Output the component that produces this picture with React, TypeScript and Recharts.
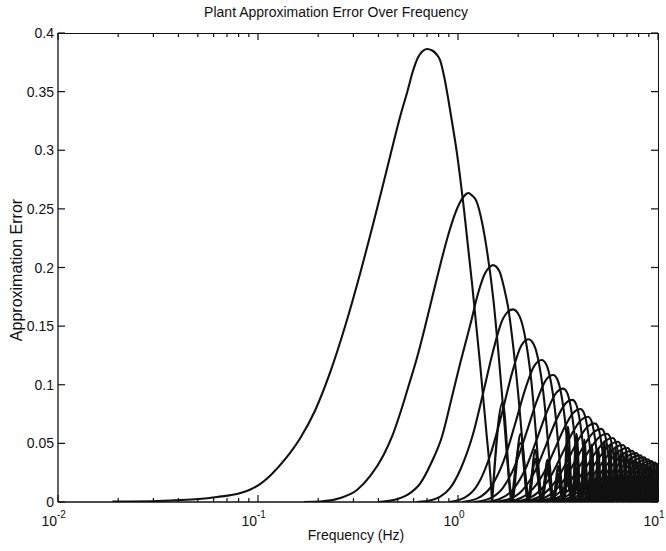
import React from 'react';
import { LineChart, Line, XAxis, YAxis } from 'recharts';

// Main lobe of each approximation-error curve: [frequency (Hz), error]
const curve1 = [[0.0187,0.0003],[0.0231,0.0004],[0.0365,0.0013],[0.0487,0.0024],[0.0627,0.0043],[0.0817,0.0077],[0.0916,0.0107],[0.1028,0.0154],[0.1153,0.0226],[0.137,0.0367],[0.1628,0.0546],[0.1935,0.0785],[0.2299,0.1109],[0.2733,0.1505],[0.3248,0.1956],[0.3859,0.2444],[0.4584,0.2953],[0.5143,0.329],[0.5575,0.3497],[0.5973,0.3684],[0.6327,0.3795],[0.6626,0.3842],[0.6993,0.3864],[0.7435,0.3851],[0.7784,0.3821],[0.8151,0.3765],[0.8535,0.3625],[0.8965,0.3424],[0.9409,0.3207],[0.9874,0.2977],[1.074,0.2478],[1.1774,0.1851],[1.2911,0.1168],[1.3832,0.0614],[1.4651,0.0124],[1.48,0]];
const curve2 = [[0.17,0],[0.2049,0.0003],[0.258,0.0034],[0.3126,0.0102],[0.3642,0.0222],[0.4245,0.0401],[0.4693,0.0563],[0.5143,0.0759],[0.564,0.0981],[0.6232,0.1228],[0.6857,0.1501],[0.7545,0.1791],[0.8245,0.2055],[0.8965,0.2286],[0.9572,0.2439],[1.0256,0.2559],[1.074,0.261],[1.1245,0.2635],[1.174,0.2615],[1.2328,0.257],[1.3212,0.238],[1.3943,0.215],[1.5043,0.172],[1.6064,0.12],[1.7013,0.07],[1.7812,0.028],[1.86,0]];
const curve3 = [[0.4,0],[0.4762,0.0017],[0.5575,0.006],[0.6474,0.0159],[0.7347,0.0333],[0.8311,0.0557],[0.9248,0.087],[1.0256,0.1183],[1.1509,0.1509],[1.2616,0.1783],[1.3676,0.1953],[1.4318,0.2],[1.494,0.202],[1.6083,0.197],[1.7032,0.182],[1.7812,0.166],[1.8934,0.131],[1.998,0.093],[2.09,0.055],[2.178,0.022],[2.25,0]];
const curve4 = [[0.62,0],[0.6857,0.0005],[0.815,0.0045],[0.9142,0.012],[1.0256,0.0273],[1.187,0.0575],[1.3317,0.092],[1.494,0.128],[1.676,0.156],[1.88,0.1643],[2.03,0.1585],[2.18,0.138],[2.33,0.1019],[2.46,0.0559],[2.56,0.0181],[2.62,0]];
const curve5 = [[0.9,0],[1.08,0.0037],[1.26,0.0153],[1.46,0.0416],[1.67,0.0777],[1.87,0.111],[2.07,0.1332],[2.25,0.1388],[2.4,0.1339],[2.55,0.1166],[2.7,0.0861],[2.83,0.0472],[2.93,0.0153],[2.99,0]];
const curve6 = [[1.048,0],[1.258,0.0033],[1.467,0.0133],[1.703,0.0363],[1.939,0.0678],[2.175,0.0969],[2.41,0.1163],[2.62,0.1211],[2.77,0.1169],[2.92,0.1017],[3.07,0.0751],[3.2,0.0412],[3.3,0.0133],[3.36,0]];
const curve7 = [[1.196,0],[1.435,0.0029],[1.674,0.0119],[1.944,0.0325],[2.213,0.0606],[2.482,0.0866],[2.751,0.104],[2.99,0.1083],[3.14,0.1045],[3.29,0.091],[3.44,0.0671],[3.57,0.0368],[3.67,0.0119],[3.73,0]];
const curve8 = [[1.344,0],[1.613,0.0026],[1.882,0.0106],[2.184,0.029],[2.486,0.0542],[2.789,0.0774],[3.091,0.0928],[3.36,0.0967],[3.51,0.0933],[3.66,0.0812],[3.81,0.06],[3.94,0.0329],[4.04,0.0106],[4.1,0]];
const curve9 = [[1.492,0],[1.79,0.0024],[2.089,0.0096],[2.425,0.0261],[2.76,0.0488],[3.096,0.0697],[3.432,0.0836],[3.73,0.0871],[3.88,0.0841],[4.03,0.0732],[4.18,0.054],[4.31,0.0296],[4.41,0.0096],[4.47,0]];
const curve10 = [[1.64,0],[1.968,0.0021],[2.296,0.0087],[2.665,0.0238],[3.034,0.0444],[3.403,0.0634],[3.772,0.0761],[4.1,0.0793],[4.25,0.0765],[4.4,0.0666],[4.55,0.0492],[4.68,0.027],[4.78,0.0087],[4.84,0]];
const curve11 = [[1.788,0],[2.146,0.002],[2.503,0.008],[2.906,0.0218],[3.308,0.0407],[3.71,0.0582],[4.112,0.0698],[4.47,0.0727],[4.62,0.0702],[4.77,0.0611],[4.92,0.0451],[5.05,0.0247],[5.15,0.008],[5.21,0]];
const curve12 = [[1.936,0],[2.323,0.0018],[2.71,0.0074],[3.146,0.0201],[3.582,0.0376],[4.017,0.0537],[4.453,0.0644],[4.84,0.0671],[4.99,0.0648],[5.14,0.0564],[5.29,0.0416],[5.42,0.0228],[5.52,0.0074],[5.58,0]];
const curve13 = [[2.084,0],[2.501,0.0017],[2.918,0.0069],[3.387,0.0187],[3.855,0.0349],[4.324,0.0499],[4.793,0.0599],[5.21,0.0624],[5.36,0.0602],[5.51,0.0524],[5.66,0.0387],[5.79,0.0212],[5.89,0.0069],[5.95,0]];
const curve14 = [[2.232,0],[2.678,0.0016],[3.125,0.0064],[3.627,0.0175],[4.129,0.0326],[4.631,0.0466],[5.134,0.0559],[5.58,0.0582],[5.73,0.0562],[5.88,0.0489],[6.03,0.0361],[6.16,0.0198],[6.26,0.0064],[6.32,0]];
const curve15 = [[2.38,0],[2.856,0.0015],[3.332,0.006],[3.868,0.0164],[4.403,0.0306],[4.939,0.0437],[5.474,0.0524],[5.95,0.0546],[6.1,0.0527],[6.25,0.0459],[6.4,0.0339],[6.53,0.0186],[6.63,0.006],[6.69,0]];
const curve16 = [[2.528,0],[3.034,0.0014],[3.539,0.0057],[4.108,0.0154],[4.677,0.0288],[5.246,0.0411],[5.814,0.0493],[6.32,0.0514],[6.47,0.0496],[6.62,0.0432],[6.77,0.0319],[6.9,0.0175],[7.0,0.0057],[7.06,0]];
const curve17 = [[2.676,0],[3.211,0.0013],[3.746,0.0053],[4.349,0.0146],[4.951,0.0272],[5.553,0.0389],[6.155,0.0467],[6.69,0.0486],[6.84,0.0469],[6.99,0.0408],[7.14,0.0301],[7.27,0.0165],[7.37,0.0053],[7.43,0]];
const curve18 = [[2.824,0],[3.389,0.0012],[3.954,0.0051],[4.589,0.0138],[5.224,0.0258],[5.86,0.0368],[6.495,0.0442],[7.06,0.046],[7.21,0.0444],[7.36,0.0386],[7.51,0.0285],[7.64,0.0156],[7.74,0.0051],[7.8,0]];
const curve19 = [[2.972,0],[3.566,0.0012],[4.161,0.0048],[4.83,0.0131],[5.498,0.0245],[6.167,0.035],[6.836,0.042],[7.43,0.0437],[7.58,0.0422],[7.73,0.0367],[7.88,0.0271],[8.01,0.0149],[8.11,0.0048],[8.17,0]];
const curve20 = [[3.12,0],[3.744,0.0011],[4.368,0.0046],[5.07,0.0125],[5.772,0.0234],[6.474,0.0334],[7.176,0.04],[7.8,0.0417],[7.95,0.0402],[8.1,0.035],[8.25,0.0259],[8.38,0.0142],[8.48,0.0046],[8.54,0]];
const curve21 = [[3.268,0],[3.922,0.0011],[4.575,0.0044],[5.311,0.0119],[6.046,0.0223],[6.781,0.0318],[7.516,0.0382],[8.17,0.0398],[8.32,0.0384],[8.47,0.0334],[8.62,0.0247],[8.75,0.0135],[8.85,0.0044],[8.91,0]];
const curve22 = [[3.416,0],[4.099,0.001],[4.782,0.0042],[5.551,0.0114],[6.32,0.0213],[7.088,0.0305],[7.857,0.0366],[8.54,0.0381],[8.69,0.0368],[8.84,0.032],[8.99,0.0236],[9.12,0.013],[9.22,0.0042],[9.28,0]];
const curve23 = [[3.564,0],[4.277,0.001],[4.99,0.004],[5.792,0.011],[6.593,0.0204],[7.395,0.0292],[8.197,0.035],[8.91,0.0365],[9.06,0.0352],[9.21,0.0307],[9.36,0.0226],[9.49,0.0124],[9.59,0.004],[9.65,0]];
const curve24 = [[3.712,0],[4.454,0.0009],[5.197,0.0039],[6.032,0.0105],[6.867,0.0196],[7.702,0.028],[8.538,0.0336],[9.28,0.035],[9.43,0.0338],[9.58,0.0294],[9.73,0.0217],[9.86,0.0119],[9.96,0.0039],[10.02,0]];
const curve25 = [[3.86,0],[4.632,0.0009],[5.404,0.0037],[6.273,0.0101],[7.141,0.0189],[8.01,0.027],[8.878,0.0324],[9.65,0.0337],[9.8,0.0325],[9.95,0.0283],[10.1,0.0209],[10.23,0.0115],[10.33,0.0037],[10.39,0]];
const curve26 = [[4.008,0],[4.81,0.0009],[5.611,0.0036],[6.513,0.0097],[7.415,0.0181],[8.317,0.0259],[9.218,0.0311],[10.02,0.0324],[10.17,0.0313],[10.32,0.0272]];
const curve27 = [[4.156,0],[4.987,0.0008],[5.818,0.0034],[6.754,0.0094],[7.689,0.0175],[8.624,0.025],[9.559,0.03],[10.39,0.0313]];
const curve28 = [[4.304,0],[5.165,0.0008],[6.026,0.0033],[6.994,0.0091],[7.962,0.0169],[8.931,0.0242],[9.899,0.029],[10.76,0.0302]];
const curve29 = [[4.452,0],[5.342,0.0008],[6.233,0.0032],[7.235,0.0088],[8.236,0.0164],[9.238,0.0234],[10.24,0.028]];
const curve30 = [[4.6,0],[5.52,0.0008],[6.44,0.0031],[7.475,0.0085],[8.51,0.0158],[9.545,0.0235],[10.58,0.026]];
const curve31 = [[4.748,0],[5.698,0.0007],[6.647,0.003],[7.716,0.0082],[8.784,0.0153],[9.852,0.0219]];

// Shared zero (null) frequencies of the curves, Hz
const nulls = [1.48,1.86,2.25,2.62,2.99,3.36,3.73,4.1,4.47,4.84,5.21,5.58,5.95,6.32,6.69,7.06,7.43,7.8,8.17,8.54,8.91,9.28,9.65,10.02];

// Side lobes between consecutive nulls: peak frequency (Hz) and the stacked lobe heights
const lobePeaks = [1.67,2.055,2.435,2.805,3.175,3.545,3.915,4.285,4.655,5.025,5.395,5.765,6.135,6.505,6.875,7.245,7.615,7.985,8.355,8.725,9.095,9.465,9.835];
const lobeHeights = [
  [0.0849],
  [0.058,0.0502],
  [0.0444,0.0367,0.0343],
  [0.0361,0.029,0.0263,0.025],
  [0.0305,0.0239,0.0214,0.0198,0.0192],
  [0.0642,0.0459,0.0321,0.0266,0.0205,0.018,0.0163,0.0156,0.0152],
  [0.0581,0.0498,0.0415,0.029,0.0238,0.0178,0.0157,0.014,0.0132,0.0125,0.0123],
  [0.0531,0.0455,0.0379,0.0265,0.0213,0.0158,0.0141,0.0121,0.0115,0.0107,0.0104,0.0102],
  [0.0489,0.0419,0.0349,0.0244,0.0192,0.0143,0.0126,0.0108,0.0103,0.0091,0.0086,0.005,0.003],
  [0.0453,0.0388,0.0323,0.0226,0.0174,0.0131,0.0113,0.0097,0.0092,0.0081,0.0055,0.003],
  [0.0512,0.0422,0.0361,0.0301,0.0211,0.016,0.012,0.0103,0.009,0.0083,0.0073,0.005,0.0028],
  [0.0479,0.0395,0.0338,0.0282,0.0197,0.0148,0.0112,0.0095,0.0082,0.0075,0.0065,0.0045,0.0025],
  [0.0451,0.0371,0.0318,0.0265,0.0186,0.0137,0.0104,0.0087,0.0076,0.0069,0.0059,0.0042,0.0024],
  [0.0425,0.035,0.03,0.025,0.0175,0.0128,0.0097,0.0081,0.0071,0.0064,0.0055,0.004,0.0022],
  [0.0402,0.0331,0.0284,0.0236,0.0166,0.012,0.0093,0.0076,0.0066,0.0059,0.005,0.0037,0.002],
  [0.0382,0.0314,0.0269,0.0224,0.0157,0.0113,0.0089,0.0071,0.0063,0.0055,0.0047,0.0035,0.002],
  [0.0363,0.0299,0.0256,0.0213,0.0149,0.0107,0.0085,0.0067,0.006,0.0052,0.0044,0.0033,0.0019],
  [0.0346,0.0285,0.0244,0.0204,0.0142,0.0101,0.0081,0.0063,0.0058,0.0049,0.0041,0.0031,0.0018],
  [0.0331,0.0272,0.0233,0.0195,0.0136,0.0096,0.0077,0.006,0.0055,0.0046,0.0039,0.003,0.0017],
  [0.0316,0.0261,0.0223,0.0186,0.013,0.0092,0.0073,0.0057,0.0053,0.0044,0.0037,0.0028,0.0016],
  [0.0303,0.025,0.0214,0.0179,0.0125,0.0088,0.0069,0.0054,0.005,0.0042,0.0035,0.0027,0.0015],
  [0.0292,0.024,0.0206,0.0172,0.012,0.0084,0.0066,0.0052,0.0047,0.004,0.0033,0.0026,0.0015],
  [0.0281,0.0231,0.0198,0.0165,0.0116,0.008,0.0062,0.005,0.0045,0.0038,0.0032,0.0025,0.0014],
];

const curves = [curve1, curve2, curve3, curve4, curve5, curve6, curve7, curve8, curve9, curve10, curve11, curve12, curve13, curve14, curve15, curve16, curve17, curve18, curve19, curve20, curve21, curve22, curve23, curve24, curve25, curve26, curve27, curve28, curve29, curve30, curve31];

const xTicks = [0.01,0.02,0.03,0.04,0.05,0.06,0.07,0.08,0.09,0.1,0.2,0.3,0.4,0.5,0.6,0.7,0.8,0.9,1,2,3,4,5,6,7,8,9,10];
const xMajorExps: Record<string, string> = { '0.01': '-2', '0.1': '-1', '1': '0', '10': '1' };
const yTicks = [0, 0.05, 0.1, 0.15, 0.2, 0.25, 0.3, 0.35, 0.4];
const yTickLabels = ['0', '0.05', '0.1', '0.15', '0.2', '0.25', '0.3', '0.35', '0.4'];

const W = 666;
const H = 551;
const PL = 58;
const PR = 658;
const PT = 33;
const PB = 502;
const FONT = '"Liberation Sans", Arial, Helvetica, sans-serif';
const INK = '#111';

const XTick = (props: any) => {
  const { x, payload } = props;
  const exp = xMajorExps[String(payload.value)];
  const major = exp !== undefined;
  const len = major ? 7 : 4;
  return (
    <g>
      <line x1={x} y1={PB} x2={x} y2={PB - len} stroke={INK} strokeWidth={1.2} />
      <line x1={x} y1={PT} x2={x} y2={PT + len} stroke={INK} strokeWidth={1.2} />
      {major && (
        <g fontFamily={FONT} fill={INK}>
          <text x={x - 3} y={PB + 24} textAnchor="end" fontSize={14} dx={exp.length > 1 ? 2 : 4}>10</text>
          <text x={x - 3} y={PB + 16} textAnchor="start" fontSize={10} dx={exp.length > 1 ? 2 : 4}>{exp}</text>
        </g>
      )}
    </g>
  );
};

const YTick = (props: any) => {
  const { y, payload, index } = props;
  return (
    <g>
      <line x1={PL} y1={y} x2={PL + 7} y2={y} stroke={INK} strokeWidth={1.2} />
      <line x1={PR} y1={y} x2={PR - 7} y2={y} stroke={INK} strokeWidth={1.2} />
      <text x={PL - 4} y={y + 5} textAnchor="end" fontSize={14} fontFamily={FONT} fill={INK}>
        {yTickLabels[index] ?? String(payload.value)}
      </text>
    </g>
  );
};

export default function App() {
  const mainSeries = curves.map((c) => c.map(([f, v]) => ({ f, v })));
  // Chain the side lobes of equal rank across the null intervals into one series each
  const maxRank = Math.max(...lobeHeights.map((h) => h.length));
  const lobeSeries: { f: number; v: number }[][] = [];
  for (let r = 0; r < maxRank; r++) {
    const pts: { f: number; v: number }[] = [];
    lobeHeights.forEach((hs, j) => {
      if (hs[r] === undefined) return;
      if (pts.length === 0 || pts[pts.length - 1].f !== nulls[j]) pts.push({ f: nulls[j], v: 0 });
      pts.push({ f: lobePeaks[j], v: hs[r] });
      pts.push({ f: nulls[j + 1], v: 0 });
    });
    if (pts.length > 0) lobeSeries.push(pts);
  }
  return (
    <div style={{ position: 'absolute', left: 0, top: 0, width: W, height: H, background: '#fff', overflow: 'hidden' }}>
      <LineChart width={W} height={H} margin={{ top: PT, right: W - PR, bottom: 19, left: 8 }}>
        <XAxis
          dataKey="f"
          type="number"
          scale="log"
          domain={[0.01, 10]}
          allowDataOverflow
          ticks={xTicks}
          interval={0}
          tick={<XTick />}
          tickLine={false}
          tickSize={0}
          tickMargin={0}
          height={H - 19 - PB}
          axisLine={{ stroke: INK, strokeWidth: 1.3 }}
        />
        <YAxis
          type="number"
          domain={[0, 0.4]}
          allowDataOverflow
          ticks={yTicks}
          interval={0}
          tick={<YTick />}
          tickLine={false}
          tickSize={0}
          tickMargin={0}
          width={PL - 8}
          axisLine={{ stroke: INK, strokeWidth: 1.3 }}
        />
        {lobeSeries.map((d, i) => (
          <Line
            key={'l' + i}
            data={d}
            dataKey="v"
            type="monotone"
            stroke={INK}
            strokeWidth={2.3}
            dot={false}
            activeDot={false}
            isAnimationActive={false}
          />
        ))}
        {mainSeries.map((d, i) => (
          <Line
            key={'m' + i}
            data={d}
            dataKey="v"
            type="monotone"
            stroke={INK}
            strokeWidth={2.1}
            dot={false}
            activeDot={false}
            isAnimationActive={false}
          />
        ))}
      </LineChart>
      <div style={{ position: 'absolute', left: PL, top: PT, width: PR - PL + 1, height: PB - PT, borderTop: `1.3px solid ${INK}`, borderRight: `1.3px solid ${INK}`, boxSizing: 'border-box', pointerEvents: 'none' }} />
      <div style={{ position: 'absolute', left: 0, width: 672, top: 4, textAlign: 'center', fontFamily: FONT, fontSize: 14, color: INK }}>
        Plant Approximation Error Over Frequency
      </div>
      <div style={{ position: 'absolute', left: 0, width: 712, top: 527, textAlign: 'center', fontFamily: FONT, fontSize: 14, color: INK }}>
        Frequency (Hz)
      </div>
      <div style={{ position: 'absolute', left: 17, top: 270, width: 0, height: 0 }}>
        <div style={{ position: 'absolute', transform: 'translate(-50%, -50%) rotate(-90deg)', whiteSpace: 'nowrap', fontFamily: FONT, fontSize: 16, color: INK }}>
          Approximation Error
        </div>
      </div>
    </div>
  );
}
